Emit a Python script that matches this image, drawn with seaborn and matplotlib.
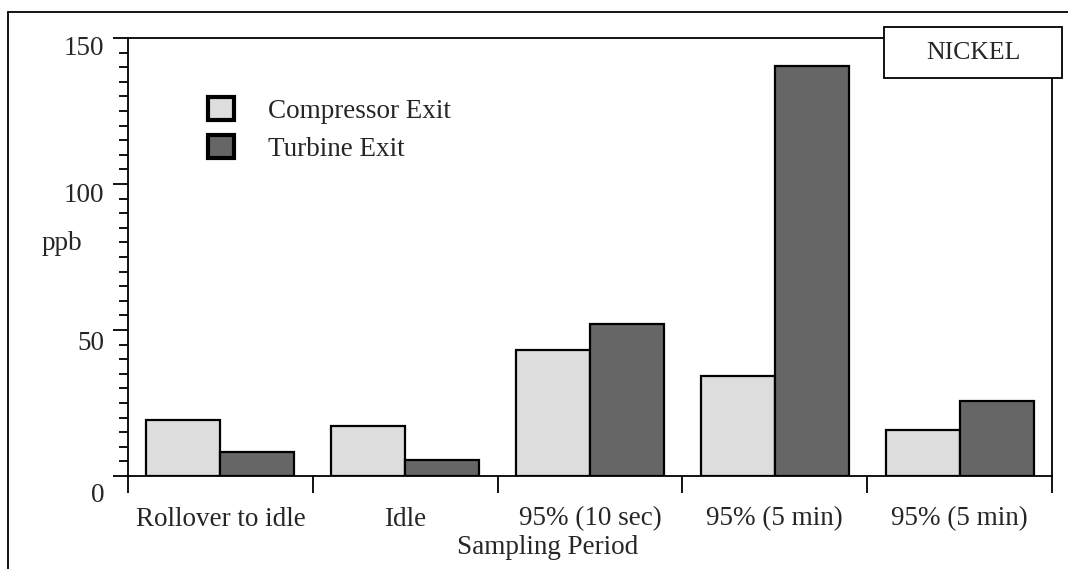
import numpy as np
import pandas as pd

import matplotlib

matplotlib.use("Agg")

import matplotlib.pyplot as plt
import matplotlib.transforms as mtransforms
import seaborn as sns
from matplotlib.lines import Line2D
from matplotlib.patches import Rectangle

# =====================================
# Data
# =====================================

periods = ["Rollover to idle", "Idle", "95% (10 sec)", "95% (5 min)", "95% (5 min)"]
period_keys = ["P1", "P2", "P3", "P4", "P5"]  # labels repeat, so keep keys unique
compressor_exit = [19.2, 17.1, 43.2, 34.2, 15.8]
turbine_exit = [8.2, 5.5, 52.1, 140.4, 25.7]
series_names = ["Compressor Exit", "Turbine Exit"]
series_colors = ["#dddddd", "#666666"]
y_ticks = [0, 50, 100, 150]

df = pd.DataFrame(
    {
        "period": period_keys * 2,
        "location": [series_names[0]] * 5 + [series_names[1]] * 5,
        "ppb": compressor_exit + turbine_exit,
    }
)

# =====================================
# Plot
# =====================================

sns.set_style("white")
plt.rcParams["font.family"] = ["Liberation Serif", "DejaVu Serif"]
FS = 19.5

fig = plt.figure(figsize=(10.68, 5.69), dpi=100)
ax = fig.add_axes([128 / 1068, 1 - 476 / 569, (1052 - 128) / 1068, (476 - 38) / 569])

sns.barplot(
    data=df,
    x="period",
    y="ppb",
    hue="location",
    order=period_keys,
    hue_order=series_names,
    palette=series_colors,
    edgecolor="black",
    linewidth=1.6,
    width=0.8,
    ax=ax,
    legend=False,
)

ax.set_xlim(-0.5, 4.5)
ax.set_ylim(0, 150)

# y axis: major + minor ticks pointing out
ax.set_yticks(y_ticks)
ax.set_yticklabels([str(t) for t in y_ticks], fontsize=FS)
ax.set_yticks(np.arange(0, 151, 5), minor=True)
ax.tick_params(axis="y", which="major", direction="out", length=11, width=1.3,
               left=True, pad=6, color="black")
ax.tick_params(axis="y", which="minor", direction="out", length=6.5, width=1.3,
               left=True, color="black")

# the labels in the original sit a little below their ticks
label_drop = [16, 11, 9, 8]
for lab, drop in zip(ax.get_yticklabels(), label_drop):
    lab.set_transform(lab.get_transform()
                      + mtransforms.ScaledTranslation(0, -drop / 100, fig.dpi_scale_trans))

# x axis: ticks at group boundaries, labels at group centres
ax.set_xticks(np.arange(-0.5, 5, 1.0))
ax.set_xticklabels([])
ax.set_xticks(range(len(periods)), minor=True)
ax.set_xticklabels(periods, minor=True, fontsize=FS)
ax.tick_params(axis="x", which="major", direction="out", length=12.5, width=1.3,
               bottom=True, color="black")
ax.tick_params(axis="x", which="minor", length=0, pad=22)

for side in ["left", "bottom", "top", "right"]:
    ax.spines[side].set_visible(True)
    ax.spines[side].set_color("black")
    ax.spines[side].set_linewidth(1.3)

ax.set_xlabel("Sampling Period", fontsize=FS)
ax.xaxis.set_label_coords((548 - 128) / 924, -(548 - 476) / 438)
ax.xaxis.label.set_verticalalignment("center")
ax.set_ylabel("")

fig.text(62 / 1068, 1 - 244 / 569, "ppb", fontsize=FS, ha="center", va="center")

# legend
handles = [
    Rectangle((0, 0), 1, 1, facecolor=c, edgecolor="black", linewidth=3)
    for c in series_colors
]
fig.legend(
    handles,
    series_names,
    loc="upper left",
    bbox_to_anchor=(208 / 1068, 1 - 97 / 569),
    frameon=False,
    fontsize=FS,
    handlelength=0.95,
    handleheight=0.95,
    handletextpad=1.25,
    labelspacing=0.4,
    borderpad=0,
    borderaxespad=0,
)

# NICKEL box, sits over the top right corner of the frame
box = Rectangle(
    (884 / 1068, 1 - 78 / 569), (1062 - 884) / 1068, (78 - 27) / 569,
    transform=fig.transFigure, facecolor="white", edgecolor="black",
    linewidth=1.3, zorder=10,
)
fig.add_artist(box)
fig.text(973 / 1068, 1 - 53 / 569, "NICKEL", fontsize=FS - 1, ha="center",
         va="center", zorder=11)

# outer border (left and top only)
fig.add_artist(Line2D([8 / 1068, 8 / 1068], [0, 1 - 12 / 569],
                      transform=fig.transFigure, color="black", linewidth=1.3))
fig.add_artist(Line2D([8 / 1068, 1], [1 - 12 / 569, 1 - 12 / 569],
                      transform=fig.transFigure, color="black", linewidth=1.3))

plt.savefig("out.png", dpi=100)
plt.close()
